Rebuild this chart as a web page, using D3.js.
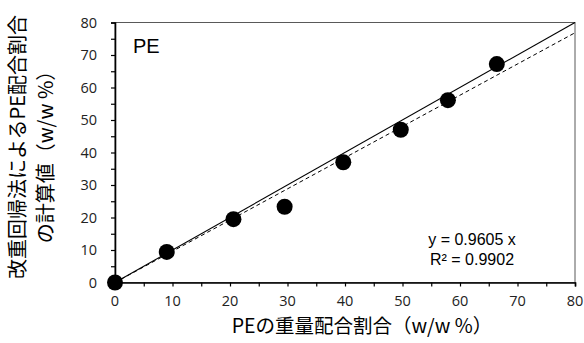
<!DOCTYPE html>
<html>
<head>
<meta charset="utf-8">
<script src="https://cdn.jsdelivr.net/npm/d3@7"></script>
<style>
  html, body { margin: 0; padding: 0; background: #fff; }
  svg { display: block; }
</style>
</head>
<body>
<svg id="chart" width="584" height="343"></svg>
<script>
"use strict";

// PE blend ratio vs. value calculated by regression
const actualPct = [0, 9.0, 20.6, 29.5, 39.7, 49.7, 57.9, 66.4];
const calcPct = [0, 9.4, 19.5, 23.3, 37.0, 47.0, 56.1, 67.2];
const fitSlope = 0.9605;
const tickValues = [0, 10, 20, 30, 40, 50, 60, 70, 80];
const minorTicks = d3.range(0, 81, 5);

const W = 584, H = 343;
const m = { left: 115, right: 9, top: 22.5, bottom: 60.5 };
const svg = d3.select("#chart");

const x = d3.scaleLinear().domain([0, 80]).range([m.left, W - m.right]);
const y = d3.scaleLinear().domain([0, 80]).range([H - m.bottom, m.top]);

const jp = "'Noto Sans CJK JP', sans-serif";
const num = "'Liberation Sans', Arial, sans-serif";
const tick = "'Open Sans', 'Liberation Sans', sans-serif";

// plot frame
svg.append("rect")
  .attr("x", x(0)).attr("y", y(80))
  .attr("width", x(80) - x(0)).attr("height", y(0) - y(80))
  .attr("fill", "none").attr("stroke", "#595959").attr("stroke-width", 1);

// axes
const xAxis = svg.append("g").attr("transform", `translate(0,${y(0)})`)
  .call(d3.axisBottom(x).tickValues(minorTicks).tickSize(4).tickFormat(""));
const yAxis = svg.append("g").attr("transform", `translate(${x(0)},0)`)
  .call(d3.axisLeft(y).tickValues(minorTicks).tickSize(4).tickFormat(""));
[xAxis, yAxis].forEach((g) => {
  g.select(".domain").attr("stroke", "#000").attr("stroke-width", 1.6);
  g.selectAll(".tick line").attr("stroke", "#000").attr("stroke-width", 1.2);
});

svg.append("g").selectAll("text").data(tickValues).enter().append("text")
  .attr("x", (d) => x(d)).attr("y", y(0) + 23)
  .attr("text-anchor", "middle")
  .style("font-family", tick).style("font-size", "14.5px").attr("fill", "#222")
  .text((d) => d);
svg.append("g").selectAll("text").data(tickValues).enter().append("text")
  .attr("x", x(0) - 18).attr("y", (d) => y(d) + 5)
  .attr("text-anchor", "end")
  .style("font-family", tick).style("font-size", "14.5px").attr("fill", "#222")
  .text((d) => d);

// 1:1 line (solid) and regression line (dashed)
const line = d3.line().x((d) => x(d[0])).y((d) => y(d[1]));
svg.append("path").datum([[0, 0], [80, 80]]).attr("d", line)
  .attr("fill", "none").attr("stroke", "#000").attr("stroke-width", 1.1);
svg.append("path").datum([[0, 0], [80, 80 * fitSlope]]).attr("d", line)
  .attr("fill", "none").attr("stroke", "#000").attr("stroke-width", 1)
  .attr("stroke-dasharray", "4,3");

// points
svg.append("g").selectAll("circle").data(actualPct).enter().append("circle")
  .attr("cx", (d) => x(d)).attr("cy", (d, i) => y(calcPct[i]))
  .attr("r", 8).attr("fill", "#000");

// labels
svg.append("text").attr("x", x(0) + 18).attr("y", y(80) + 30)
  .style("font-family", num).style("font-size", "20px").attr("fill", "#000")
  .text("PE");

svg.append("text").attr("x", 472).attr("y", 245)
  .attr("text-anchor", "middle")
  .style("font-family", num).style("font-size", "16px").attr("fill", "#000")
  .text("y = 0.9605 x");
svg.append("text").attr("x", 472).attr("y", 265)
  .attr("text-anchor", "middle")
  .style("font-family", num).style("font-size", "16px").attr("fill", "#000")
  .text("R² = 0.9902");

// axis titles
svg.append("text").attr("x", 362).attr("y", 333)
  .attr("text-anchor", "middle")
  .style("font-family", jp).style("font-size", "19.5px").attr("fill", "#000")
  .text("PEの重量配合割合（w/w %）");

svg.append("text")
  .attr("transform", "translate(25,147) rotate(-90)")
  .attr("text-anchor", "middle")
  .style("font-family", jp).style("font-size", "20px").attr("fill", "#000")
  .text("改重回帰法によるPE配合割合");
svg.append("text")
  .attr("transform", "translate(53,152) rotate(-90)")
  .attr("text-anchor", "middle")
  .style("font-family", jp).style("font-size", "20px").attr("fill", "#000")
  .text("の計算値（w/w %）");
</script>
</body>
</html>
